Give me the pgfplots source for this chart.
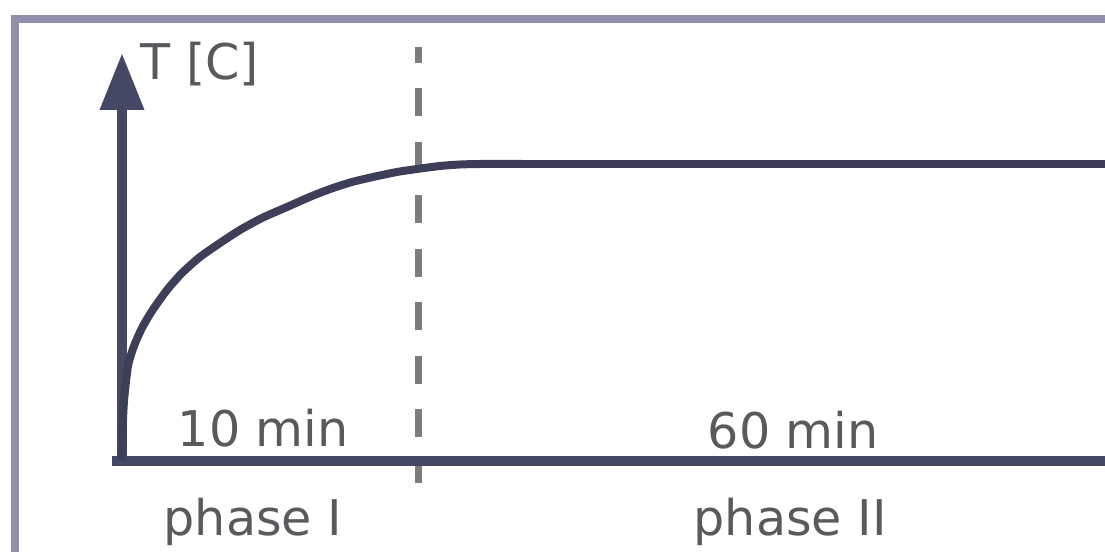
\documentclass[border=0pt]{standalone}
\usepackage{pgfplots}
\pgfplotsset{compat=1.18}
\usepackage{fontspec}
\setmainfont{DejaVu Sans}
\usetikzlibrary{arrows.meta}
\definecolor{frame}{HTML}{8E90AE}
\definecolor{axisc}{HTML}{454864}
\definecolor{curvec}{HTML}{3D3F58}
\definecolor{dashc}{HTML}{7C7C80}
\definecolor{txt}{HTML}{5A5A5E}

% coordinates: 1 unit = 1 px of the sketch, origin at the axes corner
\pgfplotstableread{
x y
0 0
0.6 30
2 60
6 95
12 115
20 133
30 150
45 171
60 188
78 204
98 218
118 231
140 243
165 254
190 265
211 273
230 279
251 284
275 289
295 292
318 295
338 296.5
360 297
400 297
}\curve
\pgfplotstableread{
x y
380 297
983 297
}\plateau

\begin{document}
\begin{tikzpicture}[font=\fontsize{14}{16}\selectfont]
\path[use as bounding box] (0,0) rectangle (11.05,5.52);
\begin{axis}[at={(0,0)}, anchor=south west,
    scale only axis, width=11.05cm, height=5.52cm,
    xmin=-122, xmax=983, ymin=-91, ymax=461,
    hide axis]
% frame
\addplot[frame, line width=0.08cm, no marks] coordinates {(-107,-91) (-107,442) (983,442)};
% dashed phase boundary
\addplot[dashc, line width=0.07cm, no marks, dash pattern=on 0.28cm off 0.255cm, dash phase=0.12cm]
    coordinates {(296,414) (296,-22)};
% axes
\addplot[axisc, line width=0.1cm, no marks] coordinates {(-10,0) (983,0)};
\addplot[axisc, line width=0.1cm, no marks, -{Triangle[length=0.57cm, width=0.42cm]}]
    coordinates {(0,-4) (0,408)};
% temperature curve
\addplot[curvec, line width=0.08cm, no marks, smooth, tension=0.4] table {\curve};
\addplot[curvec, line width=0.08cm, no marks] table {\plateau};
\node[txt, inner sep=0pt, anchor=base west] at (axis cs:18,381) {T [C]};
\node[txt, inner sep=0pt, anchor=base west] at (axis cs:55,14) {10 min};
\node[txt, inner sep=0pt, anchor=base west] at (axis cs:585,12) {60 min};
\node[txt, inner sep=0pt, anchor=base west] at (axis cs:41,-75) {phase I};
\node[txt, inner sep=0pt, anchor=base west] at (axis cs:571,-75) {phase II};
\end{axis}
\end{tikzpicture}
\end{document}
